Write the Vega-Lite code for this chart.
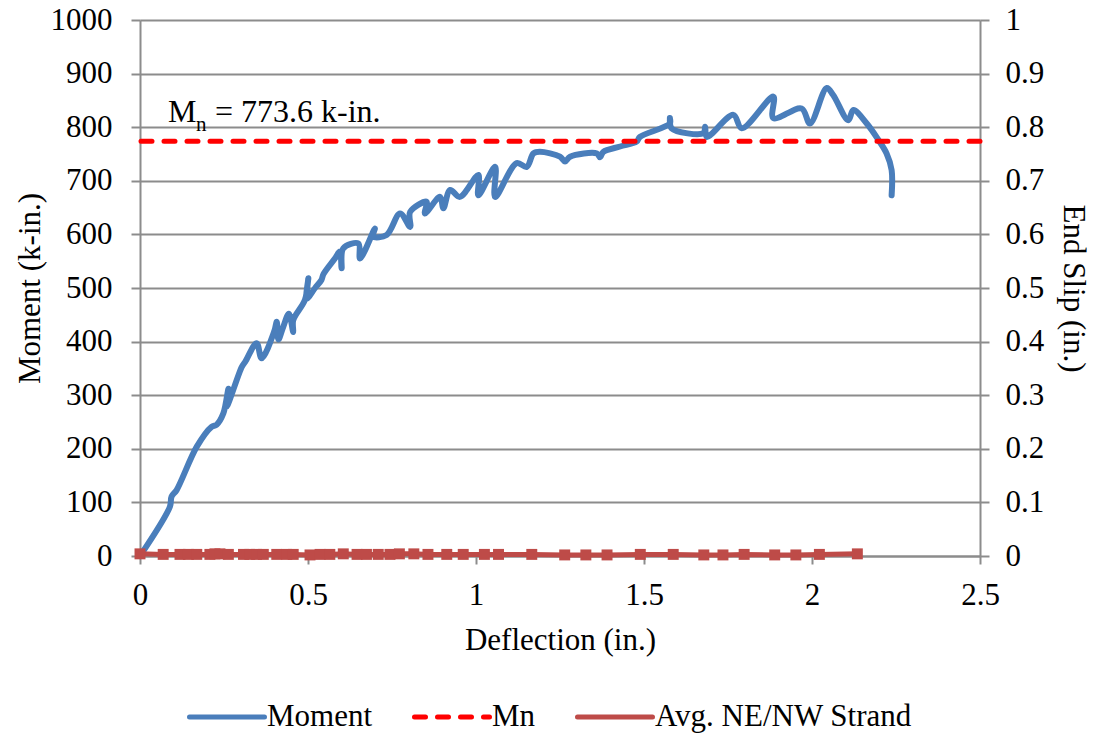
{
  "$schema": "https://vega.github.io/schema/vega-lite/v6.json",
  "width": 840,
  "height": 536,
  "autosize": {"type": "none"},
  "padding": {"left": 140, "top": 20, "right": 114, "bottom": 184},
  "background": "white",
  "config": {
    "view": {"stroke": null},
    "font": "Liberation Serif",
    "text": {"font": "Liberation Serif"},
    "axis": {
      "labelFont": "Liberation Serif",
      "titleFont": "Liberation Serif",
      "labelFontSize": 31,
      "titleFontSize": 31,
      "titleFontWeight": "normal",
      "labelColor": "black",
      "titleColor": "black",
      "domainColor": "#8c8c8c",
      "domainWidth": 2,
      "tickColor": "#8c8c8c",
      "tickWidth": 2,
      "tickSize": 9,
      "gridColor": "#8c8c8c",
      "gridWidth": 2,
      "grid": false,
      "labelFlush": false,
      "labelOverlap": false
    },
    "legend": {
      "labelFont": "Liberation Serif",
      "labelFontSize": 31,
      "labelColor": "black",
      "labelLimit": 500,
      "symbolType": "stroke",
      "symbolSize": 5625,
      "symbolStrokeWidth": 5,
      "labelOffset": 0,
      "columnPadding": 31
    }
  },
  "datasets": {
    "moment": [
      {"i": 0, "d": 0, "M": 0},
      {"i": 1, "d": 0.089, "M": 92},
      {"i": 2, "d": 0.094, "M": 111},
      {"i": 3, "d": 0.109, "M": 123},
      {"i": 4, "d": 0.169, "M": 204},
      {"i": 5, "d": 0.213, "M": 241},
      {"i": 6, "d": 0.228, "M": 245},
      {"i": 7, "d": 0.248, "M": 266},
      {"i": 8, "d": 0.263, "M": 312},
      {"i": 9, "d": 0.258, "M": 279},
      {"i": 10, "d": 0.303, "M": 353},
      {"i": 11, "d": 0.313, "M": 362},
      {"i": 12, "d": 0.347, "M": 397},
      {"i": 13, "d": 0.362, "M": 369},
      {"i": 14, "d": 0.4, "M": 420},
      {"i": 15, "d": 0.407, "M": 437},
      {"i": 16, "d": 0.412, "M": 404},
      {"i": 17, "d": 0.425, "M": 425},
      {"i": 18, "d": 0.443, "M": 452},
      {"i": 19, "d": 0.456, "M": 418},
      {"i": 20, "d": 0.456, "M": 440},
      {"i": 21, "d": 0.491, "M": 478},
      {"i": 22, "d": 0.501, "M": 518},
      {"i": 23, "d": 0.496, "M": 480},
      {"i": 24, "d": 0.521, "M": 500},
      {"i": 25, "d": 0.54, "M": 515},
      {"i": 26, "d": 0.546, "M": 526},
      {"i": 27, "d": 0.58, "M": 555},
      {"i": 28, "d": 0.595, "M": 568},
      {"i": 29, "d": 0.6, "M": 537},
      {"i": 30, "d": 0.605, "M": 574},
      {"i": 31, "d": 0.65, "M": 583},
      {"i": 32, "d": 0.655, "M": 555},
      {"i": 33, "d": 0.699, "M": 611},
      {"i": 34, "d": 0.694, "M": 596},
      {"i": 35, "d": 0.734, "M": 599},
      {"i": 36, "d": 0.774, "M": 639},
      {"i": 37, "d": 0.804, "M": 614},
      {"i": 38, "d": 0.804, "M": 642},
      {"i": 39, "d": 0.853, "M": 661},
      {"i": 40, "d": 0.848, "M": 639},
      {"i": 41, "d": 0.893, "M": 670},
      {"i": 42, "d": 0.903, "M": 649},
      {"i": 43, "d": 0.923, "M": 683},
      {"i": 44, "d": 0.952, "M": 670},
      {"i": 45, "d": 1.007, "M": 711},
      {"i": 46, "d": 1.007, "M": 673},
      {"i": 47, "d": 1.057, "M": 726},
      {"i": 48, "d": 1.057, "M": 670},
      {"i": 49, "d": 1.121, "M": 733},
      {"i": 50, "d": 1.151, "M": 726},
      {"i": 51, "d": 1.171, "M": 751},
      {"i": 52, "d": 1.19, "M": 754},
      {"i": 53, "d": 1.25, "M": 745},
      {"i": 54, "d": 1.265, "M": 736},
      {"i": 55, "d": 1.28, "M": 745},
      {"i": 56, "d": 1.36, "M": 751},
      {"i": 57, "d": 1.369, "M": 744},
      {"i": 58, "d": 1.379, "M": 754},
      {"i": 59, "d": 1.429, "M": 764},
      {"i": 60, "d": 1.478, "M": 773},
      {"i": 61, "d": 1.488, "M": 782},
      {"i": 62, "d": 1.577, "M": 807},
      {"i": 63, "d": 1.577, "M": 817},
      {"i": 64, "d": 1.582, "M": 798},
      {"i": 65, "d": 1.677, "M": 789},
      {"i": 66, "d": 1.682, "M": 801},
      {"i": 67, "d": 1.687, "M": 782},
      {"i": 68, "d": 1.766, "M": 823},
      {"i": 69, "d": 1.791, "M": 798},
      {"i": 70, "d": 1.885, "M": 857},
      {"i": 71, "d": 1.885, "M": 817},
      {"i": 72, "d": 1.969, "M": 835},
      {"i": 73, "d": 1.994, "M": 807},
      {"i": 74, "d": 2.044, "M": 873},
      {"i": 75, "d": 2.063, "M": 860},
      {"i": 76, "d": 2.108, "M": 813},
      {"i": 77, "d": 2.123, "M": 832},
      {"i": 78, "d": 2.163, "M": 807},
      {"i": 79, "d": 2.198, "M": 776},
      {"i": 80, "d": 2.222, "M": 751},
      {"i": 81, "d": 2.237, "M": 720},
      {"i": 82, "d": 2.237, "M": 673}
    ],
    "mn": [{"M": 773.6}],
    "strand": [
      {"d": 0, "slip": 0.004},
      {"d": 0.069, "slip": 0.003},
      {"d": 0.119, "slip": 0.003},
      {"d": 0.144, "slip": 0.003},
      {"d": 0.169, "slip": 0.003},
      {"d": 0.208, "slip": 0.003},
      {"d": 0.223, "slip": 0.004},
      {"d": 0.238, "slip": 0.004},
      {"d": 0.263, "slip": 0.003},
      {"d": 0.308, "slip": 0.003},
      {"d": 0.327, "slip": 0.003},
      {"d": 0.347, "slip": 0.003},
      {"d": 0.367, "slip": 0.003},
      {"d": 0.407, "slip": 0.003},
      {"d": 0.437, "slip": 0.003},
      {"d": 0.456, "slip": 0.003},
      {"d": 0.506, "slip": 0.002},
      {"d": 0.536, "slip": 0.003},
      {"d": 0.565, "slip": 0.003},
      {"d": 0.605, "slip": 0.004},
      {"d": 0.646, "slip": 0.003},
      {"d": 0.674, "slip": 0.003},
      {"d": 0.709, "slip": 0.003},
      {"d": 0.744, "slip": 0.003},
      {"d": 0.772, "slip": 0.004},
      {"d": 0.815, "slip": 0.004},
      {"d": 0.857, "slip": 0.003},
      {"d": 0.913, "slip": 0.003},
      {"d": 0.962, "slip": 0.003},
      {"d": 1.025, "slip": 0.003},
      {"d": 1.067, "slip": 0.003},
      {"d": 1.166, "slip": 0.003},
      {"d": 1.264, "slip": 0.002},
      {"d": 1.327, "slip": 0.002},
      {"d": 1.39, "slip": 0.002},
      {"d": 1.489, "slip": 0.003},
      {"d": 1.587, "slip": 0.003},
      {"d": 1.678, "slip": 0.002},
      {"d": 1.735, "slip": 0.002},
      {"d": 1.798, "slip": 0.003},
      {"d": 1.889, "slip": 0.002},
      {"d": 1.952, "slip": 0.002},
      {"d": 2.022, "slip": 0.003},
      {"d": 2.135, "slip": 0.004}
    ]
  },
  "layer": [
    {
      "layer": [
        {
          "data": {"name": "moment"},
          "transform": [{"calculate": "'Moment'", "as": "series"}],
          "mark": {"type": "line", "strokeWidth": 6, "strokeJoin": "round", "strokeCap": "round", "interpolate": "catmull-rom"},
          "encoding": {
            "x": {
              "field": "d", "type": "quantitative",
              "scale": {"domain": [0, 2.5], "nice": false, "zero": false},
              "axis": {"values": [0, 0.5, 1, 1.5, 2, 2.5], "format": "~g", "title": "Deflection (in.)", "labelFont": "Liberation Serif", "titleFont": "Liberation Serif", "labelPadding": 16, "titlePadding": 15, "tickSize": 8}
            },
            "y": {
              "field": "M", "type": "quantitative",
              "scale": {"domain": [0, 1000], "nice": false},
              "axis": {"orient": "left", "values": [0, 100, 200, 300, 400, 500, 600, 700, 800, 900, 1000], "format": "d", "grid": true, "title": "Moment (k-in.)", "labelFont": "Liberation Serif", "titleFont": "Liberation Serif", "labelPadding": 19, "titlePadding": 4}
            },
            "order": {"field": "i", "type": "quantitative"},
            "color": {
              "field": "series", "type": "nominal",
              "scale": {"domain": ["Moment", "Mn", "Avg. NE/NW Strand"], "range": ["#4A7EBB", "#FF0000", "#BE4B48"]},
              "legend": {
                "title": null, "orient": "none", "direction": "horizontal", "legendX": 47, "legendY": 657,
                "labelFont": "Liberation Serif", "labelLimit": 500,
                "encode": {"symbols": {"update": {
                  "strokeDash": {"signal": "datum.value === 'Mn' ? [11, 12] : [1, 0]"},
                  "strokeCap": {"value": "round"}
                }}}
              }
            }
          }
        },
        {
          "data": {"name": "mn"},
          "transform": [{"calculate": "'Mn'", "as": "series"}],
          "mark": {"type": "rule", "strokeWidth": 5, "strokeCap": "round", "strokeDash": [11, 12]},
          "encoding": {
            "y": {"field": "M", "type": "quantitative", "title": "Moment (k-in.)"},
            "color": {"field": "series", "type": "nominal"}
          }
        },
        {
          "data": {"values": [{}]},
          "mark": {"type": "text", "align": "left", "baseline": "alphabetic", "fontSize": 32, "font": "Liberation Serif", "color": "black"},
          "encoding": {
            "x": {"datum": 0.0833, "type": "quantitative"},
            "y": {"datum": 810, "type": "quantitative"},
            "text": {"value": "M"}
          }
        },
        {
          "data": {"values": [{}]},
          "mark": {"type": "text", "align": "left", "baseline": "alphabetic", "fontSize": 21, "font": "Liberation Serif", "color": "black"},
          "encoding": {
            "x": {"datum": 0.167, "type": "quantitative"},
            "y": {"datum": 793, "type": "quantitative"},
            "text": {"value": "n"}
          }
        },
        {
          "data": {"values": [{}]},
          "mark": {"type": "text", "align": "left", "baseline": "alphabetic", "fontSize": 32, "font": "Liberation Serif", "color": "black"},
          "encoding": {
            "x": {"datum": 0.2232, "type": "quantitative"},
            "y": {"datum": 810, "type": "quantitative"},
            "text": {"value": "= 773.6 k-in."}
          }
        }
      ]
    },
    {
      "data": {"name": "strand"},
      "transform": [{"calculate": "'Avg. NE/NW Strand'", "as": "series"}],
      "mark": {"type": "line", "strokeWidth": 5, "point": {"shape": "square", "size": 120, "filled": true}},
      "encoding": {
        "x": {"field": "d", "type": "quantitative"},
        "y": {
          "field": "slip", "type": "quantitative",
          "scale": {"domain": [0, 1], "nice": false},
          "axis": {"orient": "right", "values": [0, 0.1, 0.2, 0.3, 0.4, 0.5, 0.6, 0.7, 0.8, 0.9, 1], "format": "~g", "grid": false, "title": "End Slip (in.)", "labelFont": "Liberation Serif", "titleFont": "Liberation Serif", "labelPadding": 16, "titlePadding": 13}
        },
        "color": {"field": "series", "type": "nominal"}
      }
    }
  ],
  "resolve": {"scale": {"y": "independent"}}
}
